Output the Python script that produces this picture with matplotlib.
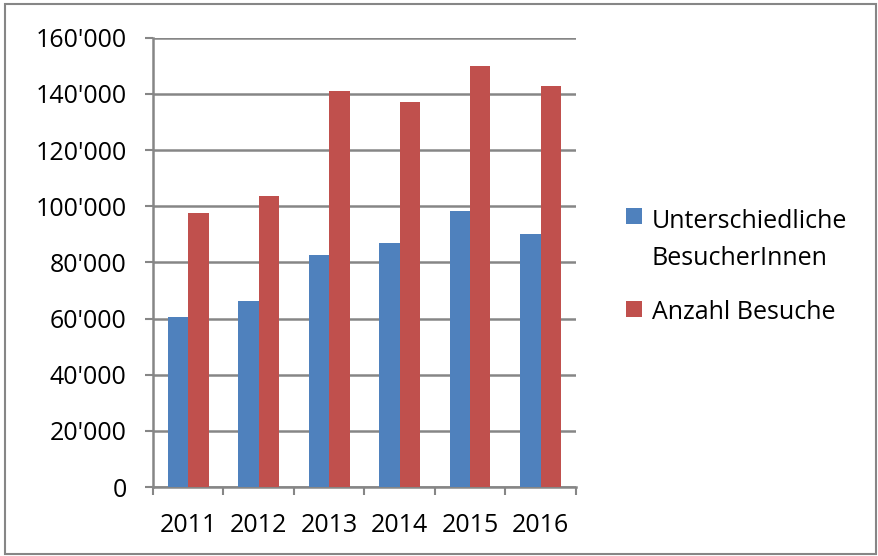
import matplotlib

matplotlib.use("Agg")

import matplotlib.pyplot as plt
import numpy as np
from matplotlib.patches import Rectangle
from matplotlib.ticker import FuncFormatter, FixedLocator


YEARS = ["2011", "2012", "2013", "2014", "2015", "2016"]
SERIES_NAMES = ["Unterschiedliche\nBesucherInnen", "Anzahl Besuche"]
DISTINCT_VISITORS = [60400, 66200, 82800, 86900, 98400, 90200]
TOTAL_VISITS = [97700, 103500, 141000, 137000, 150000, 142700]

BLUE = "#4f81bd"
RED = "#c0504d"
GRID_GRAY = "#868686"
FONT = "Open Sans"

FIG_W = 879
FIG_H = 556


def apostrophe_thousands(value, _position):
    return f"{int(value):,}".replace(",", "'")


def to_fig(px, py):
    """Pixel position (from top left) to figure fraction."""
    return px / FIG_W, 1 - py / FIG_H


def main() -> None:
    plt.rcParams["font.family"] = [FONT, "DejaVu Sans"]

    fig = plt.figure(figsize=(FIG_W / 100, FIG_H / 100), dpi=100)

    # grey frame round the whole chart area
    fig.patches.append(
        Rectangle(
            (0.006, 0.004),
            0.991,
            0.988,
            transform=fig.transFigure,
            fill=False,
            edgecolor=GRID_GRAY,
            linewidth=1.5,
        )
    )

    ax = fig.add_axes([0.174, 0.124, 0.481, 0.808])

    x = np.arange(len(YEARS))
    width = 0.29

    ax.bar(
        x - width / 2,
        DISTINCT_VISITORS,
        width,
        color=BLUE,
        zorder=3,
    )
    ax.bar(
        x + width / 2,
        TOTAL_VISITS,
        width,
        color=RED,
        zorder=3,
    )

    ax.set_xlim(-0.5, len(YEARS) - 0.5)
    ax.set_ylim(0, 160000)
    ax.set_yticks(np.arange(0, 160001, 20000))
    ax.yaxis.set_major_formatter(FuncFormatter(apostrophe_thousands))

    ax.set_xticks(x)
    ax.set_xticklabels(YEARS)
    ax.xaxis.set_minor_locator(
        FixedLocator(np.arange(-0.5, len(YEARS), 1.0))
    )

    ax.yaxis.grid(True, color=GRID_GRAY, linewidth=1.8, zorder=0)
    ax.set_axisbelow(True)

    for side in ["top", "right"]:
        ax.spines[side].set_visible(False)
    for side in ["left", "bottom"]:
        ax.spines[side].set_color(GRID_GRAY)
        ax.spines[side].set_linewidth(1.8)

    ax.tick_params(
        axis="y",
        length=6,
        width=1.5,
        color=GRID_GRAY,
        pad=13,
        labelsize=18,
    )
    ax.tick_params(axis="x", which="major", length=0, pad=19, labelsize=18)
    ax.tick_params(
        axis="x",
        which="minor",
        length=6,
        width=1.5,
        color=GRID_GRAY,
    )

    # legend drawn by hand: square next to first line of each label
    legend_rows = [
        (BLUE, SERIES_NAMES[0], 208, 228),
        (RED, SERIES_NAMES[1], 301, 319),
    ]
    for colour, label, square_top, baseline in legend_rows:
        left, top = to_fig(626, square_top)
        size_x = 16 / FIG_W
        size_y = 16 / FIG_H
        fig.patches.append(
            Rectangle(
                (left, top - size_y),
                size_x,
                size_y,
                transform=fig.transFigure,
                facecolor=colour,
                edgecolor="none",
            )
        )
        for line_index, line in enumerate(label.split("\n")):
            tx, ty = to_fig(652, baseline + line_index * 37)
            fig.text(
                tx,
                ty,
                line,
                fontsize=18,
                va="baseline",
                ha="left",
            )

    fig.savefig("out.png", dpi=100)
    plt.close(fig)


if __name__ == "__main__":
    main()
